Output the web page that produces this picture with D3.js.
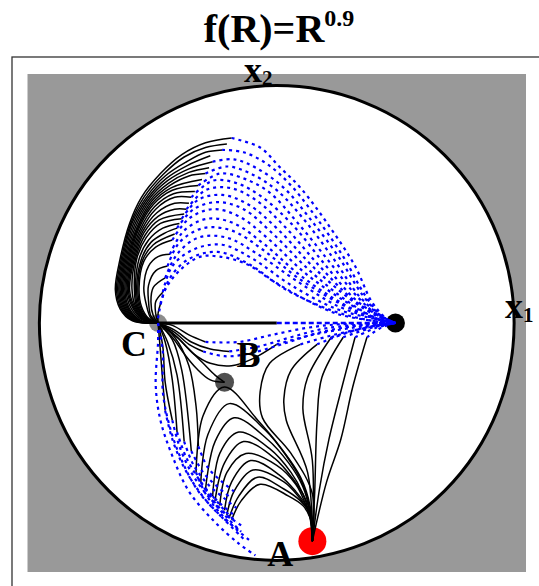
<!DOCTYPE html>
<html>
<head>
<meta charset="utf-8">
<script src="https://cdn.jsdelivr.net/npm/d3@7"></script>
<style>
body { margin: 0; background: #fff; }
svg { display: block; }
text { font-family: "Liberation Serif", "DejaVu Serif", serif; font-weight: bold; fill: #000; }
</style>
</head>
<body>
<svg id="chart" width="539" height="586"></svg>
<script>
"use strict";

// coordinates in units of the disc radius x 100 (disc = radius 100)

// loops leaving C upwards (solid part)
var upperBlack = [
	[[-50,0],[-61,1],[-66,6],[-68,14],[-66,27],[-62,42],[-57,53],[-49,63],[-40,71],[-30,76],[-19,78]],
	[[-50,0],[-60.5,1],[-65.5,6],[-67.5,14],[-65.5,27],[-61.5,42],[-56,53],[-48,62.5],[-39,70],[-30,74],[-21,75.5]],
	[[-50,0],[-60,1],[-65,6],[-67,14],[-65,27],[-61,42],[-55,53],[-47,62],[-38,68],[-30,72],[-23,73]],
	[[-50,0],[-59.5,1],[-64.5,6],[-66.5,14],[-64.5,27],[-60.5,41.5],[-54.5,52.5],[-46.5,61],[-37.5,66.5],[-28,70.5]],
	[[-50,0],[-59,1],[-64,6],[-66,14],[-64,27],[-60,41],[-54,52],[-46,60],[-37,65],[-27,68]],
	[[-50,0],[-58.5,1],[-63.5,6],[-65.5,14],[-63.5,27],[-59.5,40.5],[-53.5,51.5],[-45.5,59],[-37,63.5],[-28.5,65.5]],
	[[-50,0],[-58,1],[-63,6],[-65,14],[-63,27],[-59,40],[-53,51],[-45,58],[-37,62],[-30,63]],
	[[-50,0],[-57.5,1],[-62.5,6],[-64.5,14],[-62.5,27],[-58.5,40],[-52.5,50.5],[-44.5,57],[-31.5,60.5]],
	[[-50,0],[-57,1],[-62,6],[-64,14],[-62,27],[-58,40],[-52,50],[-44,56],[-33,58]],
	[[-50,0],[-57,1.5],[-61.5,6.5],[-63.5,14],[-61.5,27],[-57.5,39.5],[-51.5,49],[-43.5,54.5],[-34.5,55.5]],
	[[-50,0],[-57,2],[-61,7],[-63,14],[-61,27],[-57,39],[-51,48],[-43,53],[-36,53]],
	[[-50,0],[-56.5,2],[-60.5,7],[-62.5,14],[-60.5,27],[-56.5,38.5],[-50.5,46.5],[-43,50.5],[-37,50.5]],
	[[-50,0],[-56,2],[-60,7],[-62,14],[-60,27],[-56,38],[-50,45],[-43,48],[-38,48]],
	[[-50,0],[-55.5,2],[-59.5,7],[-61,14.5],[-59.5,27],[-55.5,37],[-49.5,43.5],[-39,46]],
	[[-50,0],[-55,2],[-59,7],[-60,15],[-59,27],[-55,36],[-49,42],[-40,44]],
	[[-50,0],[-55,2],[-58.5,7],[-59.5,15],[-58,27],[-54,35],[-48,40],[-41,42]],
	[[-50,0],[-55,2],[-58,7],[-59,15],[-57,27],[-53,34],[-47,38],[-42,40]],
	[[-50,0],[-54.5,2],[-57.5,7],[-58.5,15],[-56.5,26.5],[-52,33],[-43,37.5]],
	[[-50,0],[-54,2],[-57,7],[-58,15],[-56,26],[-51,32],[-44,35]],
	[[-50,0],[-53,2],[-55,8],[-56,15],[-54,24],[-50,28],[-45,29]],
	[[-50,0],[-53,3],[-54,9],[-54,16],[-51,22],[-46,24]],
	[[-50,0],[-52,3],[-53,9],[-52,15],[-47,19]],
	[[-50,0],[-51,4],[-51,9],[-48,13]],
	[[-50,0],[-50,4],[-49,8]]
];

// their dotted continuation towards the black point
var upperBlue = [
	[[-19,78],[-7,74],[1,66],[10,57],[22,41],[33,24],[40,9],[46,2],[50,0]],
	[[-23,73],[-14,72],[-4,67],[6,58],[17,44],[28,28],[37,12],[44,3],[50,0]],
	[[-27,68],[-18,69],[-8,65],[3,57],[14,44],[26,28],[36,12],[44,3],[50,0]],
	[[-30,63],[-21,66],[-11,63],[0,56],[12,43],[24,27],[35,11],[44,3],[50,0]],
	[[-33,58],[-24,63],[-14,61],[-3,55],[9,42],[22,26],[34,11],[43,3],[50,0]],
	[[-36,53],[-27,60],[-17,59],[-6,53],[7,41],[20,25],[33,10],[43,3],[50,0]],
	[[-38,48],[-30,56],[-20,57],[-9,52],[4,40],[18,24],[32,10],[43,3],[50,0]],
	[[-40,44],[-33,52],[-23,54],[-12,50],[1,39],[16,23],[31,10],[42,3],[50,0]],
	[[-42,40],[-35,48],[-25,51],[-14,48],[-1,37],[14,22],[30,9],[42,2],[50,0]],
	[[-44,35],[-37,44],[-27,48],[-16,45],[-3,35],[12,21],[29,9],[42,2],[50,0]],
	[[-45,29],[-39,39],[-29,44],[-18,42],[-5,33],[10,20],[28,8],[41,2],[50,0]],
	[[-46,24],[-41,34],[-31,40],[-19,39],[-6,31],[9,19],[27,8],[41,2],[50,0]],
	[[-47,19],[-42,29],[-33,36],[-21,36],[-8,29],[8,18],[26,7],[41,2],[50,0]],
	[[-48,13],[-44,24],[-35,31],[-23,33],[-10,27],[6,16],[25,6],[40,2],[50,0]],
	[[-49,8],[-45,19],[-37,27],[-25,30],[-12,25],[4,14],[24,5],[40,1],[50,0]],
	[[-50,2],[-47,14],[-40,23],[-32,28],[-24,28],[-13,25],[-2,18],[10,11],[25,4],[40,1],[50,0]]
];

// horizontal trajectory C -> black point
var axisBlack = [[-50,0],[0,0]];
var axisBlue = [[0,0],[50,0]];

// leaving C to the right, just under the axis
var belowBlack = [
	[[-50,0],[-44,-1],[-37,-5],[-30,-8]],
	[[-50,0],[-43,-3],[-36,-8],[-28,-11],[-20,-12]],
	[[-50,0],[-43,-4],[-37,-9],[-31,-12]],
	[[-50,0],[-42,-6],[-35,-13],[-28,-17],[-19,-18],[-10,-15],[0,-9]],
	[[-50,0],[-43,-5],[-37,-11],[-31,-17],[-26,-22],[-22,-25]],
	[[-50,0],[-44,-6],[-39,-13],[-34,-19],[-28,-24],[-22,-25]]
];
var belowBlue = [
	[[-30,-8],[-16,-8],[-2,-5],[13,-2],[27,-0.5],[50,0]],
	[[-20,-12],[-8,-10],[6,-6],[22,-2],[50,0]],
	[[-31,-12],[-22,-14],[-12,-13],[2,-9],[18,-4],[35,-1],[50,0]],
	[[0,-9],[15,-5],[32,-2],[50,0]]
];

// leaving C downwards
var downBlack = [
	[[-50,0],[-49,-12],[-48,-25],[-47,-37]],
	[[-50,0],[-48,-10],[-47,-25],[-44,-41]],
	[[-50,0],[-47,-8],[-44,-24],[-42,-46]],
	[[-50,0],[-46,-8],[-42,-22],[-39,-50]],
	[[-50,0],[-44,-7],[-40,-20],[-36,-54]],
	[[-50,0],[-43,-6],[-37,-18],[-34,-35],[-33,-52]]
];
var downBlue = [
	[[-50,0],[-50,-8],[-51,-26],[-49,-41],[-44,-56],[-37,-71],[-26,-84],[-16,-93],[-9,-98]],
	[[-50,0],[-48,-12],[-48,-29],[-45,-44],[-40,-58],[-33,-71],[-23,-82],[-14,-91]],
	[[-47,-37],[-44,-49],[-39,-61],[-32,-72],[-24,-81],[-15,-88]],
	[[-44,-41],[-41,-52],[-36,-63],[-29,-73],[-21,-81],[-14,-86]],
	[[-42,-46],[-38,-57],[-32,-67],[-25,-75],[-18,-81]],
	[[-39,-50],[-35,-60],[-29,-68],[-22,-74],[-17,-78]],
	[[-36,-54],[-31,-63],[-25,-69],[-19,-74]],
	[[-33,-52],[-29,-61],[-23,-67],[-18,-71]],
	[[-34,-63],[-30,-72],[-24,-80],[-17,-87],[-11,-92]],
	[[-32,-67],[-27,-75],[-21,-82],[-15,-88]],
	[[-30,-70],[-25,-77],[-19,-83]],
	[[-27,-73],[-22,-79],[-17,-84]]
];

// arches ending in A
var archBlack = [
	[[-34,-63],[-31,-39],[-22,-27],[-8,-41],[2,-53],[10,-65],[14,-77],[15,-92]],
	[[-32,-67],[-29,-47],[-20,-34],[-5,-45],[4,-56],[11,-68],[14,-79],[15,-92]],
	[[-30,-70],[-26,-50],[-18,-40],[-4,-49],[5,-59],[11,-69],[14,-80],[15,-92]],
	[[-27,-73],[-24,-55],[-16,-46],[-3,-53],[6,-63],[11,-72],[14,-82],[15,-92]],
	[[-26,-75],[-22,-59],[-14,-50],[-1,-57],[7,-66],[12,-74],[15,-83],[15,-92]],
	[[-24,-77],[-21,-63],[-13,-55],[0,-60],[8,-68],[12,-76],[15,-84],[15,-92]],
	[[-22,-79],[-19,-67],[-11,-58],[1,-64],[8,-71],[13,-78],[15,-85],[15,-92]],
	[[-21,-81],[-18,-71],[-10,-62],[3,-67],[9,-73],[13,-79],[15,-86],[15,-92]],
	[[-20,-82],[-16,-73],[-8,-65],[3,-70],[10,-75],[14,-80],[15,-87],[15,-92]],
	[[-19,-83],[-15,-75],[-7,-68],[5,-73],[11,-77],[14,-82],[15,-88],[15,-92]]
];

// leaving A upwards to the axis
var rightBlack = [
	[[15,-92],[21,-67],[27,-49],[32,-27],[38,-6]],
	[[15,-92],[18,-70],[22,-49],[28,-25],[33,-6]],
	[[15,-92],[16,-71],[17,-41],[19,-23],[28,-6]],
	[[15,-92],[15,-58],[11,-36],[13,-23],[23,-6]],
	[[15,-92],[13,-63],[4,-41],[3,-32],[6,-20],[17,-9]],
	[[15,-92],[15,-72],[6,-55],[-6,-40],[-7,-29],[-3,-17],[10,-9]]
];
var rightBlue = [
	[[38,-6],[44,-2],[50,0]],
	[[33,-6],[42,-2],[50,0]],
	[[28,-6],[40,-2],[50,0]],
	[[23,-6],[37,-2],[50,0]],
	[[17,-9],[30,-4],[42,-1],[50,0]],
	[[10,-9],[24,-5],[38,-2],[50,0]]
];

var points = [
	{ nom: "A", pos: [15,-92], r: 14, couleur: "#ff0000" },
	{ nom: "B", pos: [-22,-25], r: 9.5, couleur: "#505050" },
	{ nom: "C", pos: [-50,0], r: 9, couleur: "#8c8c8c" },
	{ nom: "", pos: [50,0], r: 9.5, couleur: "#000000" }
];

var etiquettes = [
	{ texte: "C", pos: [-50,0], dx: -37, dy: 33 },
	{ texte: "B", pos: [-22,-25], dx: 12, dy: -15 },
	{ texte: "A", pos: [15,-92], dx: -45, dy: 25 }
];

var titre = { base: "f(R)=R", exposant: "0.9" };


var svg = d3.select("#chart");

var x = d3.scaleLinear().domain([-105, 105]).range([27.5, 526]);
var y = d3.scaleLinear().domain([-105, 105]).range([572, 74]);

var trace = d3.line()
	.x(d => x(d[0]))
	.y(d => y(d[1]))
	.curve(d3.curveCatmullRom.alpha(0.5));

// cadre et fond
svg.append("rect")
.attr("x", 12)
.attr("y", 57)
.attr("width", 560)
.attr("height", 560)
.attr("fill", "#fff")
.attr("stroke", "#333")
.attr("stroke-width", 1.3);

svg.append("rect")
.attr("x", x(-105))
.attr("y", y(105))
.attr("width", x(105) - x(-105))
.attr("height", y(-105) - y(105))
.attr("fill", "#999999");

svg.append("circle")
.attr("cx", x(0))
.attr("cy", y(0))
.attr("r", x(100) - x(0))
.attr("fill", "#fff")
.attr("stroke", "#000")
.attr("stroke-width", 3);

// titre
var t = svg.append("text")
.attr("x", 279)
.attr("y", 42)
.attr("text-anchor", "middle")
.style("font-size", "40px");
t.append("tspan").text(titre.base);
t.append("tspan")
.attr("dy", -16)
.style("font-size", "24px")
.text(titre.exposant);

// points sous les trajectoires
svg.append("g")
.selectAll("circle")
.data(points)
.enter()
	.append("circle")
	.attr("cx", d => x(d.pos[0]))
	.attr("cy", d => y(d.pos[1]))
	.attr("r", d => d.r)
	.attr("fill", d => d.couleur);

// trajectoires pleines
var gNoir = svg.append("g")
.attr("fill", "none")
.attr("stroke", "#000")
.attr("stroke-width", 1.5);

[upperBlack, belowBlack, downBlack, archBlack, rightBlack].forEach(
	famille => gNoir.append("g")
		.selectAll("path")
		.data(famille)
		.enter()
			.append("path")
			.attr("d", trace)
);

gNoir.append("path")
.attr("d", trace(axisBlack))
.attr("stroke-width", 3);

// trajectoires pointillées
var gBleu = svg.append("g")
.attr("fill", "none")
.attr("stroke", "#0000ff")
.attr("stroke-width", 2.2)
.attr("stroke-dasharray", "3,4");

[upperBlue, belowBlue, downBlue, rightBlue].forEach(
	famille => gBleu.append("g")
		.selectAll("path")
		.data(famille)
		.enter()
			.append("path")
			.attr("d", trace)
);

gBleu.append("path")
.attr("d", trace(axisBlue))
.attr("stroke-width", 2.5)
.attr("stroke-dasharray", "5,3");

// étiquettes des points
svg.append("g")
.selectAll("text")
.data(etiquettes)
.enter()
	.append("text")
	.attr("x", d => x(d.pos[0]) + d.dx)
	.attr("y", d => y(d.pos[1]) + d.dy)
	.style("font-size", "36px")
	.text(d => d.texte);

// axes x1, x2
var ax2 = svg.append("text")
.attr("x", 244)
.attr("y", 82)
.style("font-size", "36px");
ax2.append("tspan").text("x");
ax2.append("tspan").attr("dy", 3).style("font-size", "21px").text("2");

var ax1 = svg.append("text")
.attr("x", 505)
.attr("y", 318)
.style("font-size", "36px");
ax1.append("tspan").text("x");
ax1.append("tspan").attr("dy", 4).style("font-size", "21px").text("1");
</script>
</body>
</html>
